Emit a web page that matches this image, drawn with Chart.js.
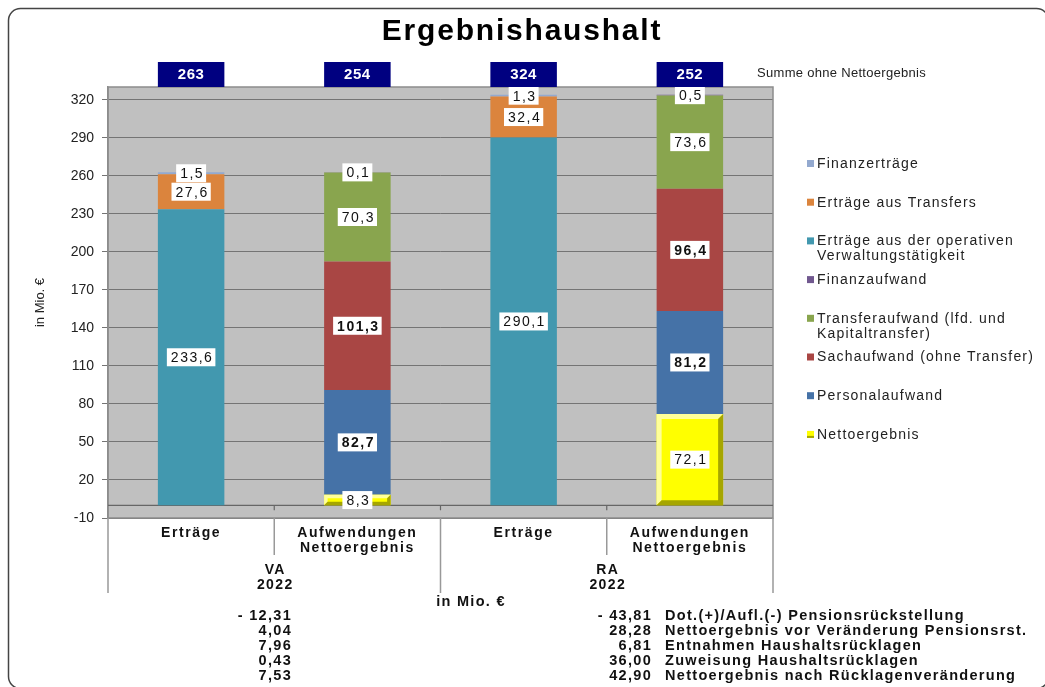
<!DOCTYPE html>
<html>
<head>
<meta charset="utf-8">
<script src="https://cdn.jsdelivr.net/npm/chart.js@4.4.0/dist/chart.umd.min.js"></script>
<style>
  html, body { margin: 0; padding: 0; background: #fff; }
  canvas { display: block; }
</style>
</head>
<body>
<canvas id="ergebnisChart" width="1045" height="687"></canvas>
<script>
// categories (x axis), two levels
var kategorien = [['Erträge'], ['Aufwendungen', 'Nettoergebnis'], ['Erträge'], ['Aufwendungen', 'Nettoergebnis']];
var gruppen = [['VA', '2022'], ['RA', '2022']];

// series values in Mio. €
var nettoergebnis = [null, 8.3, null, 72.1];
var personalaufwand = [null, 82.7, null, 81.2];
var sachaufwand = [null, 101.3, null, 96.4];
var transferaufwand = [null, 70.3, null, 73.6];
var finanzaufwand = [null, 0.1, null, 0.5];
var ertraegeOperativ = [233.6, null, 290.1, null];
var ertraegeTransfers = [27.6, null, 32.4, null];
var finanzertraege = [1.5, null, 1.3, null];

// y axis tick labels
var yTicks = [-10, 20, 50, 80, 110, 140, 170, 200, 230, 260, 290, 320];

// table below the chart
var tabelleVA = ['- 12,31', '4,04', '7,96', '0,43', '7,53'];
var tabelleRA = ['- 43,81', '28,28', '6,81', '36,00', '42,90'];
var tabelleText = [
    'Dot.(+)/Aufl.(-) Pensionsrückstellung',
    'Nettoergebnis vor Veränderung Pensionsrst.',
    'Entnahmen Haushaltsrücklagen',
    'Zuweisung Haushaltsrücklagen',
    'Nettoergebnis nach Rücklagenveränderung'
];

var FONT = "'Liberation Sans', Arial, sans-serif";

function fmt(v) {
    return v.toFixed(1).replace('.', ',');
}

//########## DATASETS ###########
var datasets = [
    { label: 'Nettoergebnis', data: nettoergebnis, backgroundColor: '#ffff00', bold: false, netto: true },
    { label: 'Personalaufwand', data: personalaufwand, backgroundColor: '#4572a7', bold: true },
    { label: 'Sachaufwand (ohne Transfer)', data: sachaufwand, backgroundColor: '#a94644', bold: true },
    { label: 'Transferaufwand (lfd. und\nKapitaltransfer)', data: transferaufwand, backgroundColor: '#89a54e', bold: false },
    { label: 'Finanzaufwand', data: finanzaufwand, backgroundColor: '#71588f', bold: false },
    { label: 'Erträge aus der operativen\nVerwaltungstätigkeit', data: ertraegeOperativ, backgroundColor: '#4298af', bold: false },
    { label: 'Erträge aus Transfers', data: ertraegeTransfers, backgroundColor: '#db843d', bold: false },
    { label: 'Finanzerträge', data: finanzertraege, backgroundColor: '#93a9cf', bold: false }
];
datasets.forEach(function (ds) {
    ds.barPercentage = 0.4;
    ds.categoryPercentage = 1;
    ds.borderWidth = 0;
});

//########## PLUGIN: background, labels, legend, table ###########
var extras = {
    id: 'extras',
    afterUpdate: function (chart) {
        // wider category labels, like the original
        var sx = chart.scales.x;
        if (sx && !sx._spaced) {
            var orig = sx.drawLabels;
            sx.drawLabels = function (area) {
                this.ctx.save();
                this.ctx.letterSpacing = '1.6px';
                orig.call(this, area);
                this.ctx.restore();
            };
            sx._spaced = true;
        }
    },
    beforeDraw: function (chart) {
        var ctx = chart.ctx, a = chart.chartArea;
        ctx.save();
        ctx.fillStyle = '#fff';
        ctx.fillRect(0, 0, chart.width, chart.height);
        ctx.fillStyle = '#c0c0c0';
        ctx.fillRect(a.left, a.top, a.right - a.left, a.bottom - a.top);
        ctx.restore();
    },
    beforeDatasetsDraw: function (chart) {
        var ctx = chart.ctx, a = chart.chartArea;
        var x = chart.scales.x, y = chart.scales.y;
        var y0 = y.getPixelForValue(0);
        ctx.save();
        ctx.strokeStyle = '#8c8c8c';
        ctx.lineWidth = 1.5;
        ctx.strokeRect(a.left, a.top, a.right - a.left, a.bottom - a.top);
        ctx.strokeStyle = '#666';
        ctx.lineWidth = 1.2;
        ctx.beginPath();
        ctx.moveTo(a.left, y0);
        ctx.lineTo(a.right, y0);
        var half = (x.getPixelForValue(1) - x.getPixelForValue(0)) / 2;
        for (var i = 1; i < kategorien.length; i++) {
            var bx = x.getPixelForValue(i) - half;
            ctx.moveTo(bx, y0);
            ctx.lineTo(bx, y0 + 5);
        }
        ctx.stroke();
        ctx.restore();
    },
    afterDatasetsDraw: function (chart) {
        var ctx = chart.ctx, a = chart.chartArea;
        ctx.save();
        // bevel on Nettoergebnis
        chart.data.datasets.forEach(function (ds, di) {
            if (!ds.netto) return;
            chart.getDatasetMeta(di).data.forEach(function (el, i) {
                if (ds.data[i] == null) return;
                var l = el.x - el.width / 2, r = el.x + el.width / 2;
                var t = Math.min(el.y, el.base), b = Math.max(el.y, el.base);
                var bw = Math.min(5, (b - t) / 3);
                ctx.fillStyle = '#ffff99';
                ctx.beginPath();
                ctx.moveTo(l, b); ctx.lineTo(l, t); ctx.lineTo(r, t);
                ctx.lineTo(r - bw, t + bw); ctx.lineTo(l + bw, t + bw); ctx.lineTo(l + bw, b - bw);
                ctx.closePath(); ctx.fill();
                ctx.fillStyle = '#a6a600';
                ctx.beginPath();
                ctx.moveTo(l, b); ctx.lineTo(r, b); ctx.lineTo(r, t);
                ctx.lineTo(r - bw, t + bw); ctx.lineTo(r - bw, b - bw); ctx.lineTo(l + bw, b - bw);
                ctx.closePath(); ctx.fill();
            });
        });
        // value labels
        ctx.textAlign = 'center';
        ctx.textBaseline = 'middle';
        ctx.letterSpacing = '1.5px';
        chart.data.datasets.forEach(function (ds, di) {
            chart.getDatasetMeta(di).data.forEach(function (el, i) {
                var v = ds.data[i];
                if (v == null) return;
                var cy = (el.y + el.base) / 2;
                var txt = fmt(v);
                ctx.font = (ds.bold ? 'bold ' : '') + '14px ' + FONT;
                var w = ctx.measureText(txt).width + 6;
                ctx.fillStyle = '#fff';
                ctx.fillRect(el.x - w / 2, cy - 9, w, 18);
                ctx.fillStyle = '#111';
                ctx.fillText(txt, el.x + 1, cy + 1);
            });
        });
        // totals without Nettoergebnis
        ctx.letterSpacing = '0.5px';
        var metaRef = chart.getDatasetMeta(0);
        for (var i = 0; i < kategorien.length; i++) {
            var sum = 0;
            chart.data.datasets.forEach(function (ds) {
                if (ds.netto) return;
                if (ds.data[i] != null) sum += ds.data[i];
            });
            var el = metaRef.data[i];
            ctx.fillStyle = '#000080';
            ctx.fillRect(el.x - el.width / 2, a.top - 25, el.width, 25);
            ctx.fillStyle = '#fff';
            ctx.font = 'bold 15px ' + FONT;
            ctx.fillText(String(Math.round(sum)), el.x, a.top - 12);
        }
        ctx.restore();
    },
    afterDraw: function (chart) {
        var ctx = chart.ctx, a = chart.chartArea;
        var x = chart.scales.x;
        var half = (x.getPixelForValue(1) - x.getPixelForValue(0)) / 2;
        ctx.save();

        // title
        ctx.fillStyle = '#000';
        ctx.textAlign = 'center';
        ctx.textBaseline = 'middle';
        ctx.font = 'bold 30px ' + FONT;
        ctx.letterSpacing = '1.8px';
        ctx.fillText('Ergebnishaushalt', 522, 32);

        // note next to totals
        ctx.textAlign = 'left';
        ctx.font = '13px ' + FONT;
        ctx.letterSpacing = '0.3px';
        ctx.fillStyle = '#222';
        ctx.fillText('Summe ohne Nettoergebnis', 757, 73);

        // dividers of the category axis
        ctx.strokeStyle = '#999';
        ctx.lineWidth = 1.5;
        ctx.beginPath();
        for (var i = 0; i <= kategorien.length; i++) {
            var bx = x.getPixelForValue(0) - half + i * 2 * half;
            var len = (i % 2 === 0) ? 75 : 37;
            ctx.moveTo(bx, a.bottom);
            ctx.lineTo(bx, a.bottom + len);
        }
        ctx.stroke();

        // group labels
        ctx.fillStyle = '#111';
        ctx.textAlign = 'center';
        ctx.font = 'bold 14px ' + FONT;
        ctx.letterSpacing = '1.4px';
        gruppen.forEach(function (g, gi) {
            var gx = (x.getPixelForValue(gi * 2) + x.getPixelForValue(gi * 2 + 1)) / 2;
            g.forEach(function (line, li) {
                ctx.fillText(line, gx + 1, a.bottom + 52 + li * 15);
            });
        });

        // legend, reversed order
        var ly = 164;
        ctx.letterSpacing = '1.2px';
        for (var di = chart.data.datasets.length - 1; di >= 0; di--) {
            var ds = chart.data.datasets[di];
            ctx.fillStyle = ds.backgroundColor;
            ctx.fillRect(807, ly - 4, 7, 7);
            if (ds.netto) {
                ctx.fillStyle = '#a6a600';
                ctx.fillRect(807, ly + 1, 7, 2);
            }
            ctx.fillStyle = '#222';
            ctx.textAlign = 'left';
            ctx.font = '14px ' + FONT;
            ds.label.split('\n').forEach(function (line, li) {
                ctx.fillText(line, 817, ly + li * 15);
            });
            ly += 38.7;
        }

        // table below
        ctx.fillStyle = '#111';
        ctx.font = 'bold 14.5px ' + FONT;
        ctx.letterSpacing = '1.3px';
        ctx.textAlign = 'center';
        ctx.fillText('in Mio. €', 471, 602);
        for (var r = 0; r < tabelleText.length; r++) {
            var ry = 616 + r * 15;
            ctx.textAlign = 'right';
            ctx.fillText(tabelleVA[r], 292, ry);
            ctx.fillText(tabelleRA[r], 652, ry);
            ctx.textAlign = 'left';
            ctx.fillText(tabelleText[r], 665, ry);
        }

        // outer frame
        ctx.letterSpacing = '0px';
        ctx.strokeStyle = '#444';
        ctx.lineWidth = 1.5;
        ctx.beginPath();
        ctx.roundRect(8.5, 8.5, 1040, 680, 12);
        ctx.stroke();
        ctx.restore();
    }
};

//########## CHART ###########
var ctx = document.getElementById('ergebnisChart').getContext('2d');
var chart = new Chart(ctx, {
    type: 'bar',
    data: {
        labels: kategorien,
        datasets: datasets
    },
    options: {
        responsive: false,
        animation: false,
        devicePixelRatio: 1,
        layout: { padding: { left: 30, right: 272, top: 87, bottom: 0 } },
        plugins: {
            legend: { display: false },
            tooltip: { enabled: false },
            title: { display: false }
        },
        scales: {
            x: {
                stacked: true,
                grid: { display: false, drawTicks: false },
                border: { display: false },
                ticks: {
                    color: '#111',
                    padding: 7,
                    maxRotation: 0,
                    autoSkip: false,
                    font: { family: FONT, size: 14, weight: 'bold', lineHeight: 1.1 }
                },
                afterFit: function (scale) { scale.height = 169; }
            },
            y: {
                stacked: true,
                min: -10,
                max: 330,
                grid: { color: '#747474', lineWidth: 1, tickLength: 6 },
                border: { display: true, color: '#8c8c8c', width: 1.5 },
                ticks: {
                    stepSize: 30,
                    padding: 8,
                    color: '#222',
                    font: { family: FONT, size: 14 }
                },
                title: {
                    display: true,
                    text: 'in Mio. €',
                    color: '#222',
                    padding: { top: 3, bottom: 0 },
                    font: { family: FONT, size: 13 }
                },
                afterBuildTicks: function (scale) {
                    scale.ticks = yTicks.map(function (v) { return { value: v }; });
                },
                afterFit: function (scale) { scale.width = 78; }
            }
        }
    },
    plugins: [extras]
});
</script>
</body>
</html>
